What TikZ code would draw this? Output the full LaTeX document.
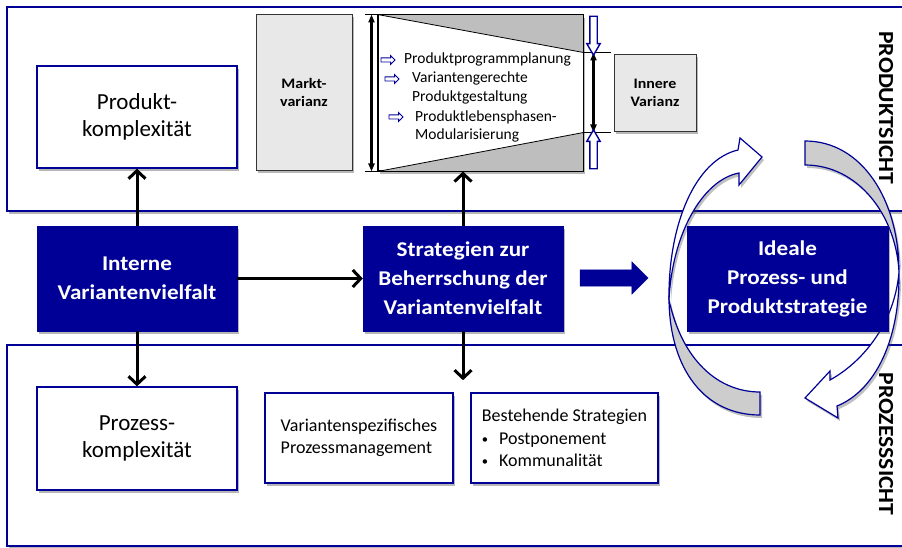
\documentclass[tikz,border=0pt]{standalone}
\usepackage{fontspec}
\setmainfont{Carlito}[BoldFeatures={FakeStretch=1.1}]
\usepackage{tikz}
\usetikzlibrary{arrows.meta,positioning,calc,shapes.arrows,shadows}
\definecolor{dblue}{HTML}{000096}
\definecolor{lgray}{HTML}{E8E8E8}
\definecolor{mgray}{HTML}{BEBEBE}
\definecolor{rgray}{HTML}{CDCDCD}
\newcommand{\blt}{\raisebox{1pt}{\scalebox{0.7}{•}}\hspace{11pt}}
\tikzset{
  >={Straight Barb[length=8pt,width=17pt]},
  shad/.style={drop shadow={shadow xshift=2pt,shadow yshift=-3pt,opacity=.4,fill=black!70}},
  wbox/.style={draw=dblue,line width=1.3pt,fill=white,shad,inner sep=0pt,align=center,font=\fontsize{23}{27}\selectfont},
  sbox/.style={wbox,align=left,font=\fontsize{18}{22.5}\selectfont},
  bbox/.style={draw=dblue,fill=dblue,text=white,shad,inner sep=0pt,align=center,font=\fontsize{21}{29}\selectfont\bfseries},
  gbox/.style={draw=black!80,line width=0.8pt,fill=lgray,shad,inner sep=0pt,align=center,font=\fontsize{14.5}{18}\selectfont\bfseries},
  panel/.style={draw=dblue,line width=1.5pt,fill=white,shad},
  ltxt/.style={anchor=base west,inner sep=0pt,font=\fontsize{15.5}{19}\selectfont},
  barr/.style={->,line width=3pt,black},
  darr/.style={{Triangle[length=8pt,width=6pt]}-{Triangle[length=8pt,width=6pt]},line width=2.2pt},
  parr/.style={single arrow,draw=dblue,fill=white,line width=0.9pt,inner sep=1.6pt,single arrow head extend=2.4pt,minimum height=14pt},
  harr/.style={single arrow,draw=dblue,fill=white,line width=1.4pt,inner sep=3pt,single arrow head extend=3pt,single arrow tip angle=60,minimum height=39pt},
  bigarr/.style={single arrow,draw=dblue,fill=dblue,inner sep=8pt,single arrow head extend=8pt,minimum height=68pt},
  rarr/.style={draw=dblue,line width=1.2pt,fill=white,drop shadow={shadow xshift=2pt,shadow yshift=-3pt,opacity=.35,fill=black!70}},
  side/.style={rotate=-90,inner sep=0pt,font=\fontsize{21.5}{22}\selectfont\bfseries},
}
\begin{document}
\begin{tikzpicture}[x=1pt,y=-1pt]
\fill[white,use as bounding box] (0,0) rectangle (902,548);
\draw[panel] (7,7) rectangle (930,211);
\draw[panel] (7,345) rectangle (930,546);
\node[wbox,minimum width=200pt,minimum height=102pt] (prodk) at (137,117) {Produkt-\\komplexität};
\node[gbox,minimum width=96pt,minimum height=156pt] (markt) at (304,92) {Markt-\\varianz};
\node[draw=black,line width=1pt,fill=white,shad,minimum width=205pt,minimum height=156pt] (trap) at (480.5,93) {};
\coordinate (tu) at ($(trap.north east)+(0,38)$);
\coordinate (tl) at ($(trap.south east)+(0,-39)$);
\fill[mgray] (trap.north west) -- (trap.north east) -- (tu) -- cycle;
\fill[mgray] (trap.south west) -- (trap.south east) -- (tl) -- cycle;
\draw[line width=0.8pt] (trap.north west) -- (tu) (trap.south west) -- (tl);
\draw[line width=1pt] (trap.north west) rectangle (trap.south east);
\node[gbox,minimum width=82pt,minimum height=77pt] (inner) at (655,92.5) {Innere\\Varianz};
\node[ltxt] (l1) at (404,64) {Produktprogrammplanung};
\node[ltxt] (l2) at (412,83) {Variantengerechte};
\node[ltxt] (l3) at (412,102) {Produktgestaltung};
\node[ltxt] (l4) at (415,122) {Produktlebensphasen-};
\node[ltxt] (l5) at (415,140) {Modularisierung};
\node[parr] (p1) at (387,60) {};
\node[parr] (p2) at (391,79) {};
\node[parr] (p3) at (395,117) {};
\coordinate (ml) at ($(trap.north west)+(-6,0)$);
\coordinate (mb) at ($(trap.south west)+(-6,0)$);
\draw[line width=.6pt] (trap.north west) -- ++(-13,0) (trap.south west) -- ++(-13,0);
\draw[darr] (ml) -- (mb);
\coordinate (ru) at ($(tu)+(10,0)$);
\coordinate (rl) at ($(tl)+(10,0)$);
\draw[line width=.6pt] (tu) -- ++(27,0) (tl) -- ++(27,0);
\draw[darr] (ru) -- (rl);
\node[harr,rotate=-90] (hd) at ($(ru)+(0,-20)$) {};
\node[harr,rotate=90] (hu) at ($(rl)+(0,20)$) {};
\node[bbox,minimum width=200pt,minimum height=105pt] (interne) at (137,278.5) {Interne\\Variantenvielfalt};
\node[bbox,minimum width=200pt,minimum height=105pt] (strat) at (463,278.5) {Strategien zur\\Beherrschung der\\Variantenvielfalt};
\node[wbox,minimum width=200pt,minimum height=103pt] (prozk) at (137,438.5) {Prozess-\\komplexität};
\node[sbox,minimum width=188pt,minimum height=90pt] (vsp) at (359,438) {Variantenspezifisches\\Prozessmanagement};
\node[sbox,minimum width=187pt,minimum height=90pt] (best) at (564.5,438) {Bestehende Strategien\\\blt Postponement\\\blt Kommunalität};
\node[bigarr] (ba) at (610,278) {};
\draw[barr] (interne) -- (strat);
\draw[barr] (interne) -- (prodk);
\draw[barr] (interne) -- (prozk);
\draw[barr] (strat.north) -- (strat.north |- trap.south);
\coordinate (sd) at ($(strat.south)+(0,49)$);
\draw[barr] (strat.south) -- (sd);
\draw[rarr,fill=rgray] (669,300) .. controls (670,370) and (705,415) .. (760,415) -- (760,392) .. controls (718,392) and (682,360) .. (669,300) -- cycle;
\draw[rarr] (762,157) -- (740,138) -- (738,150) .. controls (695,160) and (668,225) .. (669,300) .. controls (672,235) and (702,180) .. (739,173) -- (739,185) -- cycle;
\draw[rarr,fill=rgray] (805,141) .. controls (862,141) and (899,200) .. (899,272) .. controls (896,215) and (858,165) .. (805,165) -- cycle;
\draw[rarr] (899,272) .. controls (900,345) and (872,392) .. (837,406) -- (838,418) -- (805,398) -- (830,371) -- (830,380) .. controls (866,360) and (895,320) .. (899,272) -- cycle;
\node[bbox,minimum width=201pt,minimum height=105pt] (ideal) at (787.5,278.5) {Ideale\\Prozess- und\\Produktstrategie};
\node[side] (ps) at (886,108) {PRODUKTSICHT};
\node[side] (zs) at (886,444) {PROZESSSICHT};
\end{tikzpicture}
\end{document}
